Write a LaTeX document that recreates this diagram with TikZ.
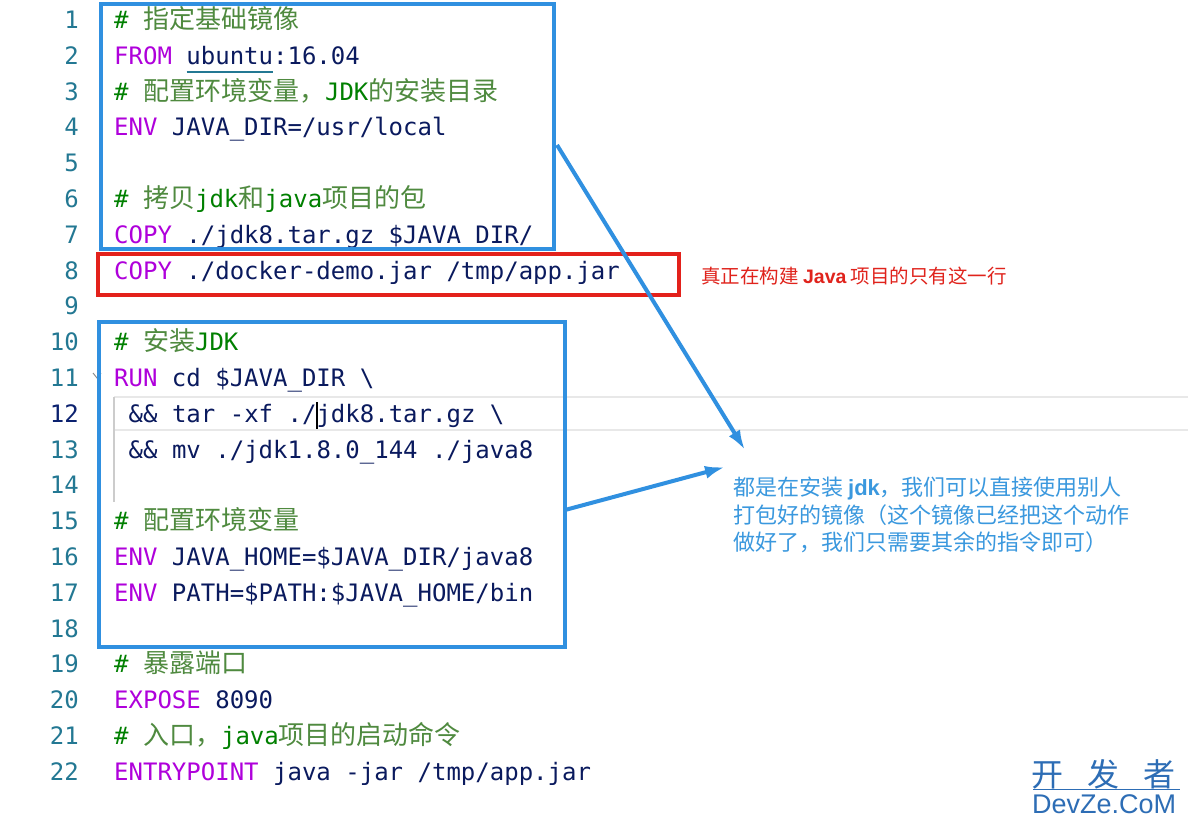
\documentclass[tikz,border=0pt]{standalone}
\usepackage{fontspec}
\setmonofont{DejaVu Sans Mono}
\newfontfamily\cjkfont{Noto Sans CJK SC}
\newfontfamily\latinbold{Liberation Sans}
\usetikzlibrary{arrows.meta}
\definecolor{boxblue}{HTML}{3090E0}
\definecolor{boxred}{HTML}{E3211B}
\definecolor{kwpurple}{HTML}{AF00DB}
\definecolor{cmtgreen}{HTML}{008000}
\definecolor{cjkgreen}{HTML}{4F8A3F}
\definecolor{codenavy}{HTML}{0A1A5E}
\definecolor{lnteal}{HTML}{237893}
\definecolor{lnactive}{HTML}{0B216F}
\definecolor{notered}{HTML}{E0231C}
\definecolor{noteblue}{HTML}{3A98DE}
\definecolor{wmblue}{HTML}{2D6DB5}
\definecolor{hlgray}{HTML}{E8E8E8}
\newcommand\codefont{\ttfamily\fontsize{24}{24}\selectfont}
\newcommand\cj[1]{{\cjkfont\fontsize{26}{26}\selectfont #1}}
\newcommand\kw[1]{\textcolor{kwpurple}{#1}}
\newcommand\cmt[1]{\textcolor{cmtgreen}{#1}}
\newcommand\cmj[1]{\textcolor{cjkgreen}{\cj{#1}}}
\tikzset{
  code/.style={anchor=base west, inner sep=0pt, text=codenavy, font=\codefont},
  lnum/.style={anchor=base east, inner sep=0pt, text=lnteal, font=\codefont},
  bluebox/.style={draw=boxblue, line width=4pt, inner sep=0pt, anchor=north west},
  redbox/.style={draw=boxred, line width=3.5pt, inner sep=0pt, anchor=north west},
  pointer/.style={draw=boxblue, line width=4pt, -{Latex[length=20pt,width=13pt]}}
}
\begin{document}
\begin{tikzpicture}[x=1pt,y=-1pt]
\useasboundingbox[fill=white] (0,0) rectangle (1188,824);
\draw[hlgray, line width=2pt] (114,397) -- (1188,397);
\draw[hlgray, line width=2pt] (114,430) -- (1188,430);
\draw[black!20, line width=1.5pt] (114,397) -- (114,502);
\foreach \i in {1,...,11,13,14,...,22}
  \node[lnum] (n\i) at (79,{28.5+(\i-1)*35.8}) {\i};
\node[lnum, text=lnactive] (n12) at (79,422.3) {12};
\draw[black!45, line width=1pt] (93,373) -- (97,378) -- (101,373);
\node[code] (l1) at (114,28.5) {\cmt{\# }\cmj{指定基础镜像}};
\node[code] (l2) at (114,64.3) {\kw{FROM} ubuntu:16.04};
\draw[lnteal, line width=2pt] (186.5,72) -- (273,72);
\node[code] (l3) at (114,100.1) {\cmt{\# }\cmj{配置环境变量，}\cmt{JDK}\cmj{的安装目录}};
\node[code] (l4) at (114,135.9) {\kw{ENV} JAVA\_DIR=/usr/local};
\node[code] (l6) at (114,207.5) {\cmt{\# }\cmj{拷贝}\cmt{jdk}\cmj{和}\cmt{java}\cmj{项目的包}};
\node[code] (l7) at (114,243.3) {\kw{COPY} ./jdk8.tar.gz \$JAVA\_DIR/};
\node[code] (l8) at (114,279.1) {\kw{COPY} ./docker-demo.jar /tmp/app.jar};
\node[code] (l10) at (114,350.7) {\cmt{\# }\cmj{安装}\cmt{JDK}};
\node[code] (l11) at (114,386.5) {\kw{RUN} cd \$JAVA\_DIR \textbackslash};
\node[code] (l12) at (128.5,422.3) {\&\& tar -xf ./jdk8.tar.gz \textbackslash};
\draw[black, line width=2pt] (317,402) -- (317,429);
\node[code] (l13) at (128.5,458.1) {\&\& mv ./jdk1.8.0\_144 ./java8};
\node[code] (l15) at (114,529.7) {\cmt{\# }\cmj{配置环境变量}};
\node[code] (l16) at (114,565.5) {\kw{ENV} JAVA\_HOME=\$JAVA\_DIR/java8};
\node[code] (l17) at (114,601.3) {\kw{ENV} PATH=\$PATH:\$JAVA\_HOME/bin};
\node[code] (l19) at (114,672.9) {\cmt{\# }\cmj{暴露端口}};
\node[code] (l20) at (114,708.7) {\kw{EXPOSE} 8090};
\node[code] (l21) at (114,744.5) {\cmt{\# }\cmj{入口，}\cmt{java}\cmj{项目的启动命令}};
\node[code] (l22) at (114,780.3) {\kw{ENTRYPOINT} java -jar /tmp/app.jar};
\node[bluebox, minimum width=453pt, minimum height=245pt] (base) at (99,2) {};
\node[redbox, minimum width=581pt, minimum height=41pt] (build) at (96,252) {};
\node[bluebox, minimum width=466pt, minimum height=325pt] (jdk) at (97,320) {};
\node[anchor=base west, inner sep=0pt, text=notered, font=\cjkfont\fontsize{19.5}{19.5}\selectfont]
  (onlyjava) at (701,283) {真正在构建 {\latinbold\bfseries Java} 项目的只有这一行};
\node[anchor=north west, inner sep=0pt, align=left, text=noteblue, font=\cjkfont\fontsize{22}{27.5}\selectfont]
  (reuse) at (733,477) {都是在安装 {\latinbold\bfseries jdk}，我们可以直接使用别人\\打包好的镜像（这个镜像已经把这个动作\\做好了，我们只需要其余的指令即可）};
\coordinate (from1) at (557,145);
\coordinate (tip1) at (745,450);
\coordinate (from2) at (565,510);
\coordinate (tip2) at (725,467);
\draw[pointer] (from1) -- (tip1);
\draw[pointer] (from2) -- (tip2);
\node[anchor=base west, inner sep=0pt, text=wmblue, font=\cjkfont\fontsize{32}{32}\selectfont]
  (wmcn) at (1031,786) {开\hspace{24pt}发\hspace{24pt}者};
\node[anchor=base west, inner sep=0pt, text=wmblue, font=\latinbold\fontsize{27}{27}\selectfont]
  (wmen) at (1032,813) {DevZe.CoM};
\draw[wmblue, line width=1pt] (1033,789) -- (1180,789);
\end{tikzpicture}
\end{document}
